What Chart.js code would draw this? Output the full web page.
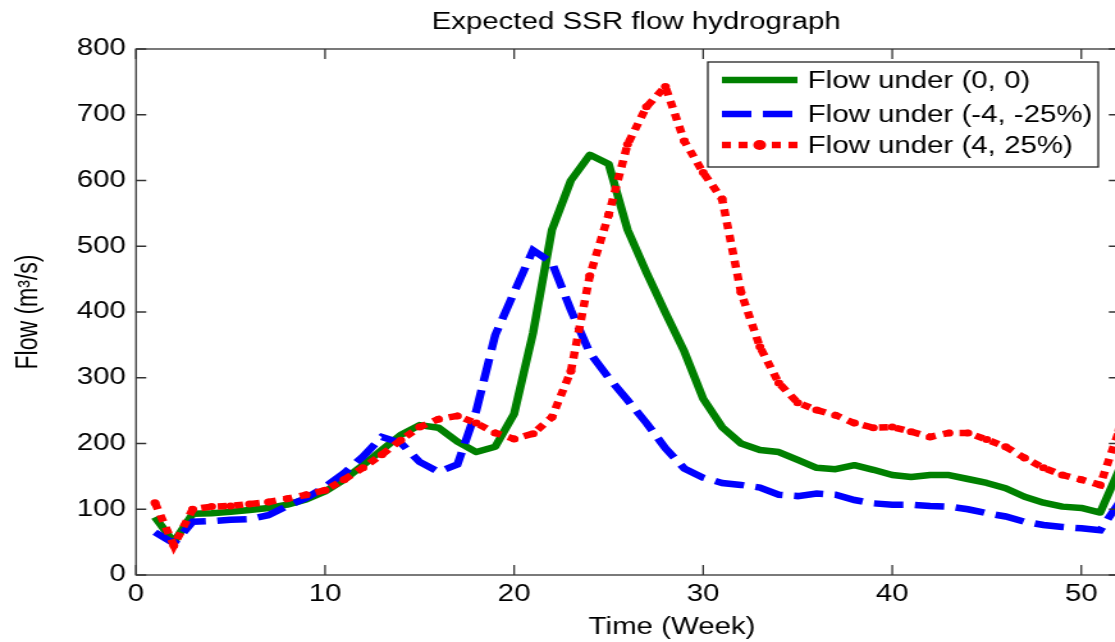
<!DOCTYPE html>
<html>
<head>
<meta charset="utf-8">
<title>Expected SSR flow hydrograph</title>
<script src="https://cdn.jsdelivr.net/npm/chart.js@4.4.0/dist/chart.umd.min.js"></script>
<style>
  html, body { margin: 0; padding: 0; background: #fff; overflow: hidden; }
  /* the original figure is stretched sideways, so the canvas is too */
  #wrap { width: 880px; height: 642px; transform: scaleX(1.28); transform-origin: 0 0; }
</style>
</head>
<body>
<div id="wrap"><canvas id="flowChart" width="880" height="642"></canvas></div>
<script>
const weeks = [1, 2, 3, 4, 5, 6, 7, 8, 9, 10, 11, 12, 13, 14, 15, 16, 17, 18, 19, 20,
  21, 22, 23, 24, 25, 26, 27, 28, 29, 30, 31, 32, 33, 34, 35, 36, 37, 38, 39, 40,
  41, 42, 43, 44, 45, 46, 47, 48, 49, 50, 51, 52];

// Flow under (0, 0)
const flowBase = [88, 50, 93, 94, 96, 99, 102, 107, 115, 127, 145, 167, 190, 213, 228, 224, 203, 187, 195, 245,
  368, 525, 600, 639, 625, 525, 460, 399, 340, 268, 225, 200, 190, 187, 175, 163, 161, 167, 160, 152,
  149, 152, 152, 146, 140, 132, 119, 110, 104, 102, 95, 160];

// Flow under (-4, -25%)
const flowDry = [65, 48, 81, 82, 84, 85, 91, 105, 117, 134, 155, 180, 210, 201, 172, 157, 168, 250, 365, 430,
  494, 475, 403, 338, 300, 266, 231, 193, 162, 148, 140, 137, 133, 122, 120, 124, 122, 114, 109, 107,
  107, 105, 104, 100, 94, 89, 81, 76, 73, 71, 68, 110];

// Flow under (4, 25%)
const flowWet = [110, 45, 100, 104, 105, 108, 111, 116, 122, 129, 145, 163, 183, 205, 225, 237, 242, 231, 216, 207,
  215, 240, 310, 455, 548, 655, 712, 743, 660, 612, 572, 430, 347, 292, 262, 251, 243, 231, 224, 225,
  218, 210, 216, 216, 206, 195, 178, 163, 152, 145, 137, 220];

const xTicks = [0, 10, 20, 30, 40, 50];
const yTicks = [0, 100, 200, 300, 400, 500, 600, 700, 800];

const seriesNames = ['Flow under (0, 0)', 'Flow under (-4, -25%)', 'Flow under (4, 25%)'];
const seriesColors = ['#008000', '#0000ff', '#ff0000'];

const FONT = '"Liberation Sans", Arial, sans-serif';
Chart.defaults.font.family = FONT;
Chart.defaults.color = '#000';

const toPoints = (vals) => weeks.map((w, i) => ({ x: w, y: vals[i] }));

// MATLAB-like box, inward ticks, title, x label and legend
const matlabFrame = {
  id: 'matlabFrame',
  afterDraw(chart) {
    const { ctx, chartArea: a, scales: { x, y } } = chart;
    ctx.save();
    ctx.strokeStyle = '#333';
    ctx.lineWidth = 1.3;
    ctx.strokeRect(a.left, a.top, a.right - a.left, a.bottom - a.top);
    ctx.beginPath();
    xTicks.forEach(v => {
      const px = x.getPixelForValue(v);
      ctx.moveTo(px, a.bottom); ctx.lineTo(px, a.bottom - 10);
      ctx.moveTo(px, a.top); ctx.lineTo(px, a.top + 10);
    });
    yTicks.forEach(v => {
      const py = y.getPixelForValue(v);
      ctx.moveTo(a.left, py); ctx.lineTo(a.left + 8, py);
      ctx.moveTo(a.right, py); ctx.lineTo(a.right - 8, py);
    });
    ctx.stroke();

    ctx.fillStyle = '#000';
    ctx.font = '23px ' + FONT;
    ctx.textAlign = 'center';
    ctx.textBaseline = 'middle';
    ctx.fillText('Expected SSR flow hydrograph', 497, 23);
    ctx.fillText('Time (Week)', 525, 628);

    // legend
    const lx = 553, ly = 62, lw = 305, lh = 105;
    ctx.fillStyle = '#fff';
    ctx.fillRect(lx, ly, lw, lh);
    ctx.strokeStyle = '#222';
    ctx.lineWidth = 1.3;
    ctx.strokeRect(lx, ly, lw, lh);
    const rows = [80, 114, 145];
    const dashes = [[], [23, 9], [7, 6]];
    rows.forEach((ry, i) => {
      ctx.save();
      ctx.strokeStyle = seriesColors[i];
      ctx.lineWidth = 6.5;
      ctx.lineCap = 'butt';
      ctx.setLineDash(dashes[i]);
      ctx.beginPath();
      ctx.moveTo(564, ry);
      ctx.lineTo(623, ry);
      ctx.stroke();
      if (i === 2) {
        ctx.setLineDash([]);
        ctx.fillStyle = seriesColors[i];
        ctx.beginPath();
        ctx.arc(593.5, ry, 5, 0, Math.PI * 2);
        ctx.fill();
      }
      ctx.restore();
      ctx.fillStyle = '#000';
      ctx.textAlign = 'left';
      ctx.fillText(seriesNames[i], 631, ry + 2);
    });
    ctx.restore();
  }
};

new Chart(document.getElementById('flowChart'), {
  type: 'line',
  data: {
    datasets: [
      {
        label: seriesNames[0],
        data: toPoints(flowBase),
        borderColor: seriesColors[0],
        borderWidth: 6.5,
        borderJoinStyle: 'round',
        pointRadius: 0,
        tension: 0,
        order: 3
      },
      {
        label: seriesNames[1],
        data: toPoints(flowDry),
        borderColor: seriesColors[1],
        borderWidth: 6.5,
        borderDash: [23, 9],
        borderCapStyle: 'butt',
        pointRadius: 0,
        tension: 0,
        order: 2
      },
      {
        label: seriesNames[2],
        data: toPoints(flowWet),
        borderColor: seriesColors[2],
        borderWidth: 6.5,
        borderDash: [7, 6],
        borderCapStyle: 'butt',
        pointRadius: 3.5,
        pointBorderWidth: 0,
        pointBackgroundColor: seriesColors[2],
        tension: 0,
        order: 1
      }
    ]
  },
  options: {
    responsive: false,
    animation: false,
    layout: { padding: { top: 49, right: 5.7, left: 0, bottom: 0 } },
    plugins: {
      legend: { display: false },
      title: { display: false },
      tooltip: { enabled: false }
    },
    scales: {
      x: {
        type: 'linear',
        min: 0,
        max: 52,
        afterFit: (s) => { s.height = 67; },
        afterBuildTicks: (s) => { s.ticks = xTicks.map(v => ({ value: v })); },
        grid: { display: false, drawTicks: false },
        border: { display: false },
        ticks: { stepSize: 10, padding: 6, autoSkip: false, maxRotation: 0, font: { size: 23 }, color: '#000' }
      },
      y: {
        min: 0,
        max: 800,
        afterFit: (s) => { s.width = 106.25; },
        afterBuildTicks: (s) => { s.ticks = yTicks.map(v => ({ value: v })); },
        grid: { display: false, drawTicks: false },
        border: { display: false },
        ticks: { stepSize: 100, padding: 8, font: { size: 23 }, color: '#000' },
        title: {
          display: true,
          text: 'Flow (m³/s)',
          font: { size: 23 },
          color: '#000',
          padding: { top: 9, bottom: 0 }
        }
      }
    }
  },
  plugins: [matlabFrame]
});
</script>
</body>
</html>
